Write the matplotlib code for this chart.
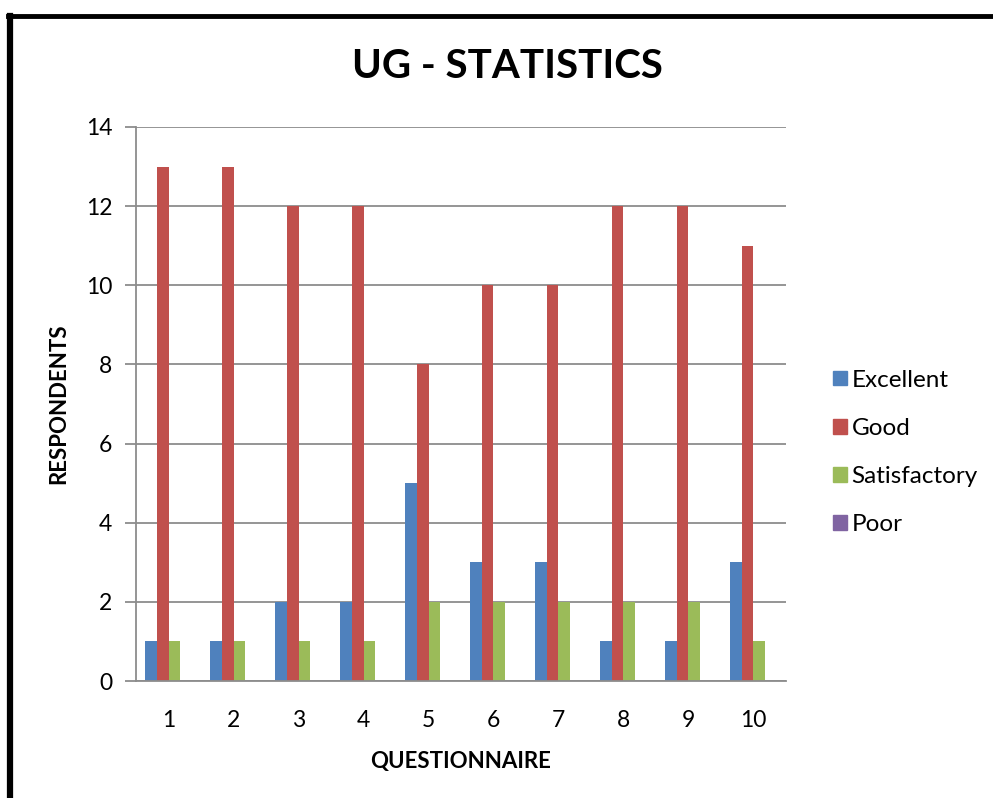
import matplotlib
matplotlib.use("Agg")
import matplotlib.pyplot as plt
from matplotlib.lines import Line2D
import numpy as np

plt.rcParams['font.family'] = ['Lato', 'DejaVu Sans']

questions = [1, 2, 3, 4, 5, 6, 7, 8, 9, 10]
excellent = [1, 1, 2, 2, 5, 3, 3, 1, 1, 3]
good = [13, 13, 12, 12, 8, 10, 10, 12, 12, 11]
satisfactory = [1, 1, 1, 1, 2, 2, 2, 2, 2, 1]
poor = [0, 0, 0, 0, 0, 0, 0, 0, 0, 0]

series = [
    ("Excellent", excellent, "#4F81BD"),
    ("Good", good, "#C0504D"),
    ("Satisfactory", satisfactory, "#9BBB59"),
    ("Poor", poor, "#8064A2"),
]

fig = plt.figure(figsize=(9.93, 7.98), dpi=100)
ax = fig.add_axes([0.137, 0.1466, 0.6545, 0.6943])

x = np.arange(1, len(questions) + 1)
w = 0.18
offsets = [-1.5, -0.5, 0.5, 1.5]
for (name, vals, color), off in zip(series, offsets):
    ax.bar(x + off * w, vals, width=w, color=color, label=name, linewidth=0)

ax.set_xlim(0.5, 10.5)
ax.set_ylim(0, 14)
ax.set_yticks(range(0, 15, 2))
ax.set_xticks(x)
ax.set_xticklabels([str(q) for q in questions])

ax.yaxis.grid(True, color="#8C8C8C", linewidth=1.3)
ax.set_axisbelow(True)
for s in ["top", "right"]:
    ax.spines[s].set_visible(False)
for s in ["left", "bottom"]:
    ax.spines[s].set_color("#8C8C8C")
    ax.spines[s].set_linewidth(1.3)

ax.tick_params(axis="y", length=8, width=1.3, color="#8C8C8C", labelsize=16.5, pad=9)
ax.tick_params(axis="x", length=0, labelsize=16.5, pad=21)

ax.set_xlabel("QUESTIONNAIRE", fontsize=16, fontweight="bold", labelpad=14)
ax.set_ylabel("RESPONDENTS", fontsize=16, fontweight="bold", labelpad=12)

fig.text(0.511, 0.917, "UG - STATISTICS", ha="center", va="center",
         fontsize=29, fontweight="bold")

handles = [plt.Rectangle((0, 0), 1, 1, color=c) for _, _, c in series]
fig.legend(handles, [n for n, _, _ in series], loc="center left",
           bbox_to_anchor=(0.827, 0.433), frameon=False, fontsize=17.5,
           handlelength=0.55, handleheight=0.55, handletextpad=0.2,
           labelspacing=1.12, borderpad=0)

# outer frame edges
fig.add_artist(Line2D([0.0105, 0.0105], [0.0, 0.9799], color="black",
                      linewidth=4.5, transform=fig.transFigure))
fig.add_artist(Line2D([0.008, 1.0], [0.9799, 0.9799], color="black",
                      linewidth=3.5, transform=fig.transFigure))

fig.savefig("out.png", dpi=100)
